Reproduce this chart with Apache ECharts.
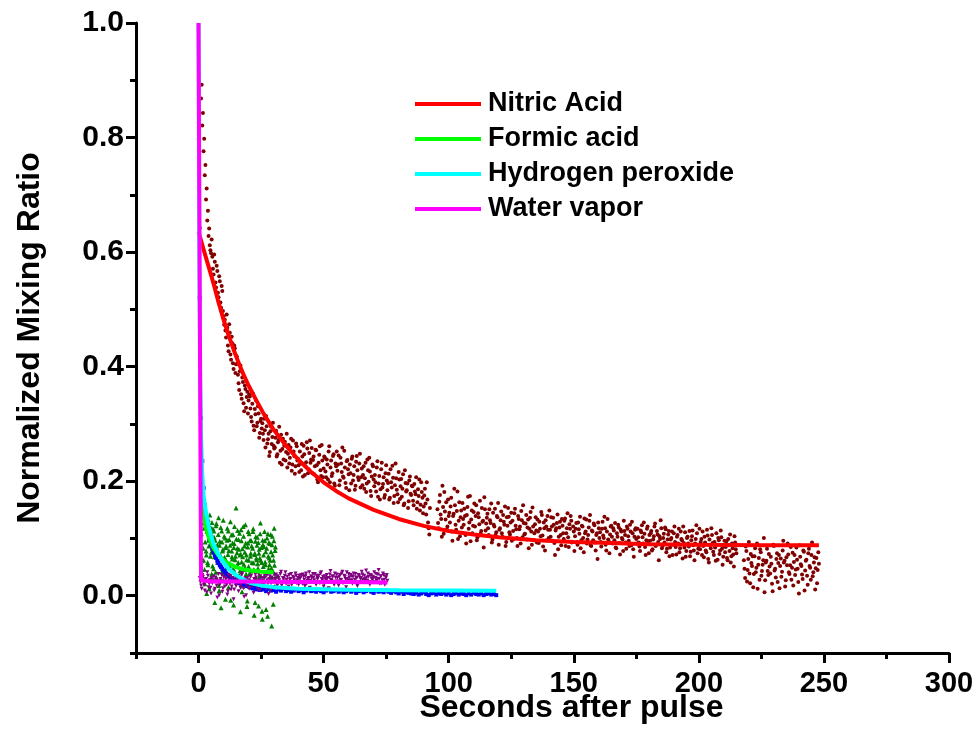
<!DOCTYPE html>
<html>
<head>
<meta charset="utf-8">
<script src="https://cdn.jsdelivr.net/npm/echarts@6/dist/echarts.min.js"></script>
<style>html,body{margin:0;padding:0;background:#fff}#c{width:979px;height:752px}</style>
</head>
<body>
<div id="c"></div>
<script>
// ---------- tick labels ----------
const xMajorTicks = [0, 50, 100, 150, 200, 250, 300];
const xMinorTicks = [-25, 25, 75, 125, 175, 225, 275];
const yMajorTicks = [0, 0.2, 0.4, 0.6, 0.8, 1.0];
const yMinorTicks = [-0.1, 0.1, 0.3, 0.5, 0.7, 0.9];

// ---------- legend / series names ----------
const seriesNames = ['Nitric Acid', 'Formic acid', 'Hydrogen peroxide', 'Water vapor'];

// ---------- measured points (sampling step 0.5 s unless noted) ----------
const sampleStep = 0.5;

// nitric acid, first pass (t = 0.5 ... 92.5)
const nitricAStart = 0.5;
const nitricA = [
  0.642, 0.868, 0.821, 0.776, 0.734, 0.692, 0.655, 0.628, 0.612, 0.598,
  0.592, 0.561, 0.583, 0.538, 0.567, 0.521, 0.549, 0.503, 0.532, 0.488,
  0.482, 0.451, 0.468, 0.427, 0.459, 0.412, 0.441, 0.396, 0.432, 0.404,
  0.405, 0.371, 0.392, 0.352, 0.381, 0.336, 0.367, 0.328, 0.356, 0.341,
  0.348, 0.312, 0.335, 0.297, 0.326, 0.341, 0.302, 0.318, 0.284, 0.309,
  0.301, 0.272, 0.289, 0.314, 0.266, 0.283, 0.251, 0.295, 0.277, 0.262,
  0.259, 0.288, 0.247, 0.272, 0.232, 0.281, 0.256, 0.238, 0.269, 0.251,
  0.224, 0.263, 0.241, 0.274, 0.229, 0.252, 0.213, 0.266, 0.236, 0.228,
  0.252, 0.219, 0.243, 0.262, 0.211, 0.233, 0.257, 0.221, 0.271, 0.238,
  0.214, 0.243, 0.226, 0.254, 0.203, 0.232, 0.261, 0.209, 0.236, 0.222,
  0.241, 0.207, 0.229, 0.252, 0.198, 0.236, 0.214, 0.247, 0.192, 0.226,
  0.218, 0.245, 0.201, 0.231, 0.259, 0.206, 0.224, 0.188, 0.237, 0.212,
  0.229, 0.196, 0.243, 0.211, 0.185, 0.234, 0.219, 0.202, 0.248, 0.207,
  0.193, 0.226, 0.205, 0.181, 0.238, 0.199, 0.217, 0.174, 0.229, 0.203,
  0.211, 0.182, 0.235, 0.196, 0.168, 0.221, 0.189, 0.207, 0.176, 0.228,
  0.184, 0.213, 0.171, 0.198, 0.227, 0.162, 0.193, 0.205, 0.177, 0.216,
  0.169, 0.204, 0.187, 0.158, 0.219, 0.182, 0.196, 0.165, 0.208, 0.176,
  0.191, 0.158, 0.182, 0.207, 0.163, 0.174, 0.149, 0.198, 0.171, 0.156,
  0.187, 0.142, 0.168, 0.118, 0.153
];
// nitric acid, second pass (t = 0.75 ... 92.25)
const nitricA2Start = 0.75;
const nitricA2 = [
  0.615, 0.892, 0.843, 0.798, 0.752, 0.711, 0.672, 0.641, 0.603, 0.622,
  0.571, 0.596, 0.547, 0.576, 0.529, 0.558, 0.512, 0.541, 0.497, 0.473,
  0.463, 0.491, 0.437, 0.474, 0.421, 0.452, 0.406, 0.437, 0.389, 0.418,
  0.386, 0.359, 0.402, 0.344, 0.373, 0.322, 0.361, 0.347, 0.318, 0.352,
  0.327, 0.304, 0.353, 0.289, 0.317, 0.296, 0.331, 0.276, 0.305, 0.292,
  0.283, 0.309, 0.259, 0.296, 0.273, 0.244, 0.287, 0.265, 0.302, 0.257,
  0.276, 0.243, 0.268, 0.295, 0.253, 0.229, 0.274, 0.262, 0.236, 0.283,
  0.248, 0.231, 0.259, 0.218, 0.271, 0.244, 0.226, 0.261, 0.239, 0.216,
  0.231, 0.265, 0.208, 0.247, 0.226, 0.268, 0.214, 0.249, 0.232, 0.258,
  0.237, 0.212, 0.255, 0.228, 0.198, 0.246, 0.219, 0.263, 0.207, 0.243,
  0.217, 0.238, 0.203, 0.261, 0.224, 0.209, 0.244, 0.196, 0.231, 0.252,
  0.229, 0.193, 0.241, 0.216, 0.208, 0.253, 0.197, 0.235, 0.221, 0.184,
  0.214, 0.239, 0.201, 0.226, 0.192, 0.244, 0.207, 0.231, 0.189, 0.222,
  0.211, 0.187, 0.232, 0.196, 0.219, 0.241, 0.183, 0.208, 0.226, 0.191,
  0.198, 0.224, 0.173, 0.209, 0.186, 0.232, 0.195, 0.171, 0.214, 0.201,
  0.197, 0.168, 0.221, 0.189, 0.206, 0.174, 0.231, 0.185, 0.163, 0.203,
  0.191, 0.173, 0.212, 0.161, 0.197, 0.184, 0.153, 0.201, 0.178, 0.192,
  0.166, 0.195, 0.177, 0.152, 0.186, 0.203, 0.159, 0.181, 0.144, 0.175,
  0.161, 0.198, 0.128, 0.107
];

// nitric acid after the short gap (t = 95.5 ... 215)
const nitricBStart = 95.5;
const nitricB = [
  0.151, 0.118, 0.176, 0.134, 0.192, 0.108, 0.147, 0.163, 0.121, 0.139,
  0.128, 0.171, 0.096, 0.143, 0.158, 0.115, 0.182, 0.131, 0.104, 0.149,
  0.162, 0.124, 0.139, 0.091, 0.155, 0.117, 0.174, 0.133, 0.109, 0.146,
  0.121, 0.158, 0.102, 0.137, 0.166, 0.113, 0.129, 0.084, 0.151, 0.126,
  0.143, 0.106, 0.132, 0.161, 0.098, 0.124, 0.152, 0.111, 0.137, 0.089,
  0.118, 0.147, 0.103, 0.129, 0.156, 0.094, 0.122, 0.138, 0.107, 0.145,
  0.131, 0.099, 0.152, 0.116, 0.087, 0.134, 0.121, 0.148, 0.102, 0.127,
  0.108, 0.141, 0.119, 0.083, 0.136, 0.112, 0.154, 0.097, 0.125, 0.114,
  0.133, 0.092, 0.117, 0.146, 0.105, 0.128, 0.079, 0.121, 0.139, 0.101,
  0.115, 0.137, 0.096, 0.124, 0.071, 0.118, 0.142, 0.103, 0.129, 0.088,
  0.122, 0.099, 0.135, 0.109, 0.144, 0.085, 0.117, 0.131, 0.094, 0.112,
  0.104, 0.127, 0.089, 0.116, 0.138, 0.097, 0.121, 0.076, 0.109, 0.133,
  0.098, 0.119, 0.141, 0.087, 0.112, 0.126, 0.093, 0.106, 0.064, 0.118,
  0.111, 0.086, 0.129, 0.101, 0.118, 0.079, 0.134, 0.095, 0.107, 0.122,
  0.091, 0.114, 0.127, 0.083, 0.103, 0.119, 0.072, 0.112, 0.098, 0.131,
  0.106, 0.082, 0.117, 0.096, 0.124, 0.088, 0.109, 0.068, 0.115, 0.099,
  0.117, 0.093, 0.078, 0.111, 0.102, 0.128, 0.085, 0.097, 0.121, 0.074,
  0.096, 0.113, 0.081, 0.104, 0.126, 0.089, 0.107, 0.062, 0.099, 0.118,
  0.087, 0.108, 0.119, 0.076, 0.098, 0.113, 0.084, 0.101, 0.071, 0.109,
  0.094, 0.072, 0.106, 0.117, 0.083, 0.099, 0.065, 0.092, 0.111, 0.078,
  0.103, 0.086, 0.069, 0.097, 0.114, 0.079, 0.091, 0.123, 0.074, 0.088,
  0.081, 0.099, 0.112, 0.067, 0.093, 0.076, 0.105, 0.058, 0.089, 0.118,
  0.092, 0.071, 0.084, 0.109, 0.063, 0.097, 0.079, 0.102, 0.054, 0.086,
  0.076, 0.095, 0.062, 0.088, 0.107, 0.069, 0.083, 0.051, 0.093, 0.074
];
const nitricB2Start = 95.75;
const nitricB2 = [
  0.127, 0.164, 0.142, 0.103, 0.155, 0.181, 0.133, 0.116, 0.168, 0.145,
  0.156, 0.112, 0.139, 0.187, 0.124, 0.148, 0.099, 0.163, 0.137, 0.119,
  0.134, 0.152, 0.106, 0.141, 0.173, 0.128, 0.095, 0.149, 0.122, 0.161,
  0.139, 0.097, 0.144, 0.125, 0.108, 0.153, 0.131, 0.172, 0.114, 0.136,
  0.118, 0.151, 0.127, 0.093, 0.145, 0.121, 0.106, 0.139, 0.162, 0.115,
  0.132, 0.109, 0.141, 0.124, 0.087, 0.137, 0.153, 0.111, 0.128, 0.096,
  0.113, 0.144, 0.122, 0.101, 0.139, 0.116, 0.091, 0.132, 0.158, 0.107,
  0.126, 0.098, 0.133, 0.117, 0.146, 0.089, 0.121, 0.109, 0.137, 0.093,
  0.112, 0.129, 0.104, 0.141, 0.086, 0.118, 0.132, 0.097, 0.115, 0.149,
  0.103, 0.121, 0.136, 0.092, 0.114, 0.127, 0.081, 0.119, 0.106, 0.134,
  0.109, 0.131, 0.087, 0.118, 0.102, 0.125, 0.139, 0.093, 0.121, 0.078,
  0.117, 0.094, 0.128, 0.108, 0.083, 0.122, 0.101, 0.135, 0.112, 0.091,
  0.106, 0.131, 0.088, 0.114, 0.097, 0.123, 0.079, 0.109, 0.128, 0.101,
  0.094, 0.117, 0.105, 0.138, 0.089, 0.112, 0.098, 0.074, 0.121, 0.103,
  0.118, 0.097, 0.084, 0.109, 0.124, 0.092, 0.115, 0.101, 0.078, 0.113,
  0.093, 0.121, 0.104, 0.087, 0.112, 0.129, 0.081, 0.103, 0.118, 0.091,
  0.102, 0.086, 0.114, 0.123, 0.091, 0.108, 0.071, 0.117, 0.095, 0.106,
  0.109, 0.079, 0.098, 0.121, 0.087, 0.113, 0.094, 0.104, 0.132, 0.083,
  0.101, 0.093, 0.116, 0.082, 0.107, 0.069, 0.098, 0.112, 0.089, 0.121,
  0.085, 0.103, 0.091, 0.076, 0.112, 0.097, 0.121, 0.084, 0.068, 0.101,
  0.091, 0.113, 0.077, 0.104, 0.088, 0.062, 0.099, 0.109, 0.082, 0.117,
  0.094, 0.071, 0.087, 0.103, 0.079, 0.115, 0.064, 0.098, 0.083, 0.106,
  0.077, 0.094, 0.061, 0.089, 0.101, 0.073, 0.114, 0.082, 0.068, 0.096,
  0.085, 0.066, 0.099, 0.078, 0.058, 0.091, 0.072, 0.104, 0.081
];

// nitric acid, last stretch (t = 218 ... 248)
const nitricCStart = 218;
const nitricC = [
  0.062, 0.031, 0.078, 0.045, 0.094, 0.022, 0.057, 0.069, 0.038, 0.083,
  0.049, 0.012, 0.066, 0.081, 0.035, 0.054, 0.101, 0.027, 0.061, 0.043,
  0.073, 0.039, 0.056, 0.008, 0.087, 0.047, 0.064, 0.024, 0.071, 0.052,
  0.033, 0.079, 0.058, 0.016, 0.067, 0.091, 0.041, 0.053, 0.028, 0.075,
  0.059, 0.036, 0.084, 0.047, 0.004, 0.068, 0.052, 0.029, 0.077, 0.044,
  0.063, 0.019, 0.082, 0.049, 0.071, 0.034, 0.058, 0.011, 0.066, 0.045,
  0.056
];
const nitricC2Start = 218.25;
const nitricC2 = [
  0.047, 0.086, 0.025, 0.064, 0.039, 0.073, 0.052, 0.015, 0.069, 0.041,
  0.091, 0.054, 0.028, 0.076, 0.043, 0.062, 0.006, 0.058, 0.082, 0.036,
  0.051, 0.068, 0.021, 0.089, 0.044, 0.032, 0.074, 0.057, 0.013, 0.065,
  0.042, 0.096, 0.061, 0.027, 0.053, 0.072, 0.038, 0.085, 0.049, 0.018,
  0.071, 0.046, 0.063, 0.024, 0.088, 0.055, 0.037, 0.079, 0.009, 0.061,
  0.035, 0.074, 0.052, 0.028, 0.093, 0.041, 0.067, 0.048, 0.022, 0.076
];

// formic acid, step 0.25 s
const formicStep = 0.25;
const formicStart = 1.0;
const formic = [
  0.092, 0.148, 0.035, 0.171, 0.062, 0.118, 0.021, 0.135, 0.078, 0.004,
  0.126, 0.054, 0.097, 0.012, 0.141, 0.069, 0.109, 0.038, 0.083, 0.117,
  0.047, 0.102, -0.012, 0.074, 0.122, 0.031, 0.089, 0.058, 0.136, 0.009,
  0.095, 0.066, -0.021, 0.113, 0.043, 0.081, 0.027, 0.104, 0.061, -0.006,
  0.087, 0.049, 0.118, 0.072, 0.015, 0.098, 0.056, 0.129, 0.034, 0.078,
  0.064, 0.107, -0.016, 0.091, 0.041, 0.069, 0.153, 0.024, 0.083, 0.052,
  0.098, 0.036, 0.071, -0.028, 0.115, 0.059, 0.082, 0.017, 0.104, 0.046,
  0.076, 0.124, 0.038, 0.063, -0.009, 0.092, 0.051, 0.108, 0.028, 0.069,
  0.043, 0.087, 0.019, 0.112, 0.057, -0.034, 0.074, 0.095, 0.031, 0.063,
  0.102, 0.048, -0.018, 0.081, 0.066, 0.127, 0.022, 0.058, -0.041, 0.089,
  0.071, 0.035, 0.096, 0.054, -0.024, 0.083, 0.012, 0.108, 0.047, 0.066,
  0.091, 0.029, 0.077, -0.053, 0.104, 0.043, 0.062, 0.118, 0.016, 0.085
];
const formic2Start = 1.125;
const formic2 = [
  0.108, 0.061, 0.156, 0.083, 0.127, 0.046, 0.094, 0.139, 0.071, 0.112,
  0.058, 0.133, 0.087, 0.102, 0.029, 0.119, 0.076, 0.128, 0.052, 0.091,
  0.113, 0.068, 0.097, 0.041, 0.126, 0.083, 0.059, 0.107, 0.018, 0.088,
  0.072, 0.119, 0.053, 0.094, 0.078, 0.132, 0.039, 0.067, 0.101, 0.084,
  0.061, 0.097, 0.036, 0.113, 0.079, 0.052, 0.088, -0.008, 0.106, 0.068,
  0.092, 0.047, 0.084, 0.121, 0.063, 0.031, 0.099, 0.075, 0.114, 0.058,
  0.081, 0.109, 0.044, 0.073, 0.096, 0.007, 0.068, 0.121, 0.055, 0.087,
  0.049, 0.092, 0.071, -0.019, 0.085, 0.112, 0.062, 0.039, 0.097, 0.074,
  0.096, 0.058, 0.083, 0.117, 0.046, 0.072, -0.012, 0.103, 0.066, 0.088,
  0.056, 0.093, 0.074, 0.035, 0.108, 0.062, 0.084, -0.027, 0.097, 0.051,
  0.086, 0.112, 0.059, 0.077, 0.041, 0.101, -0.036, 0.069, 0.093, 0.054,
  0.062, 0.107, 0.048, 0.089, 0.071, -0.015, 0.096, 0.053, 0.079, 0.034
];

// hydrogen peroxide: early part step 0.5 s, late part step 1 s
const peroxideEarlyStart = 0.5;
const peroxideEarly = [
  0.520, 0.310, 0.235, 0.188, 0.158, 0.137, 0.121, 0.108, 0.097, 0.089,
  0.083, 0.076, 0.071, 0.066, 0.061, 0.057, 0.053, 0.050, 0.047, 0.044,
  0.042, 0.039, 0.037, 0.035, 0.033, 0.031, 0.029, 0.028, 0.027, 0.025,
  0.024, 0.023, 0.022, 0.021, 0.020, 0.019, 0.018, 0.017, 0.017, 0.016,
  0.015, 0.016, 0.013, 0.014, 0.012, 0.013, 0.011, 0.012, 0.010, 0.011
];
const peroxideLateStart = 26;
const peroxideLateStep = 1;
const peroxideLate = [
  0.011, 0.008, 0.012, 0.009, 0.010, 0.007, 0.011, 0.009, 0.012, 0.008,
  0.010, 0.007, 0.009, 0.011, 0.008, 0.010, 0.006, 0.009, 0.011, 0.008,
  0.009, 0.007, 0.010, 0.008, 0.006, 0.009, 0.011, 0.007, 0.008, 0.010,
  0.007, 0.009, 0.006, 0.008, 0.010, 0.007, 0.009, 0.005, 0.008, 0.009,
  0.006, 0.008, 0.010, 0.007, 0.005, 0.009, 0.007, 0.008, 0.006, 0.009,
  0.007, 0.005, 0.008, 0.006, 0.004, 0.007, 0.003, 0.006, 0.005, 0.004,
  0.003, 0.005, 0.002, 0.004, 0.006, 0.003, 0.001, 0.004, 0.005, 0.002,
  0.004, 0.003, 0.005, 0.002, 0.004, 0.001, 0.003, 0.005, 0.002, 0.004,
  0.003, 0.001, 0.004, 0.002, 0.005, 0.003, 0.002, 0.004, 0.001, 0.003,
  0.004, 0.002, 0.003, 0.001
];

// water vapor, step 0.5 s, two interleaved passes
const waterStart = 0.5;
const water = [
  0.031, 0.018, 0.036, 0.024, 0.009, 0.029, 0.041, 0.015, 0.027, 0.004,
  0.022, 0.034, 0.012, 0.028, -0.003, 0.038, 0.019, 0.026, 0.007, 0.033,
  0.016, 0.029, 0.002, 0.036, 0.021, 0.011, 0.031, -0.006, 0.025, 0.017,
  0.034, 0.008, 0.027, 0.019, 0.039, 0.013, 0.024, 0.001, 0.031, 0.022,
  0.014, 0.035, 0.021, 0.005, 0.028, 0.032, 0.017, 0.038, 0.009, 0.026,
  0.031, 0.019, 0.036, 0.012, 0.027, 0.003, 0.034, 0.022, 0.029, 0.015,
  0.026, 0.037, 0.018, 0.031, 0.024, 0.042, 0.013, 0.029, 0.035, 0.021,
  0.033, 0.016, 0.028, 0.038, 0.023, 0.031, 0.011, 0.035, 0.027, 0.019,
  0.029, 0.036, 0.021, 0.033, 0.017, 0.039, 0.026, 0.031, 0.014, 0.034,
  0.024, 0.032, 0.038, 0.019, 0.029, 0.035, 0.022, 0.041, 0.027, 0.016,
  0.034, 0.026, 0.031, 0.013, 0.037, 0.028, 0.033, 0.021, 0.039, 0.025,
  0.031, 0.018, 0.036, 0.027, 0.042, 0.024, 0.033, 0.015, 0.029, 0.038,
  0.026, 0.034, 0.021, 0.039, 0.028, 0.032, 0.017, 0.036, 0.024, 0.031,
  0.037, 0.023, 0.029, 0.044, 0.026, 0.033, 0.019, 0.035, 0.028, 0.031,
  0.024, 0.038, 0.029, 0.045, 0.021, 0.034, 0.027, 0.036, 0.019, 0.032, 0.026
];
const water2Start = 0.75;
const water2 = [
  0.024, 0.012, 0.033, 0.019, 0.028, 0.006, 0.035, 0.021, 0.014, 0.031,
  0.027, 0.009, 0.032, 0.018, 0.025, 0.001, 0.029, 0.036, 0.013, 0.023,
  0.031, 0.019, 0.008, 0.027, 0.034, 0.016, 0.024, 0.011, 0.033, 0.028,
  0.021, 0.029, 0.014, 0.036, 0.025, -0.002, 0.031, 0.018, 0.027, 0.012,
  0.033, 0.024, 0.017, 0.029, 0.037, 0.021, 0.011, 0.028, 0.034, 0.019,
  0.026, 0.031, 0.015, 0.035, 0.022, 0.029, 0.009, 0.032, 0.024, 0.036,
  0.029, 0.021, 0.034, 0.027, 0.038, 0.018, 0.031, 0.025, 0.041, 0.028,
  0.024, 0.036, 0.029, 0.019, 0.033, 0.027, 0.039, 0.022, 0.031, 0.035,
  0.032, 0.023, 0.037, 0.028, 0.034, 0.021, 0.029, 0.041, 0.026, 0.031,
  0.038, 0.027, 0.022, 0.035, 0.031, 0.024, 0.039, 0.029, 0.033, 0.021,
  0.029, 0.036, 0.024, 0.031, 0.043, 0.026, 0.034, 0.019, 0.032, 0.037,
  0.025, 0.033, 0.028, 0.039, 0.022, 0.035, 0.029, 0.041, 0.026, 0.032,
  0.036, 0.027, 0.033, 0.024, 0.038, 0.031, 0.022, 0.034, 0.029, 0.042,
  0.028, 0.035, 0.026, 0.032, 0.039, 0.024, 0.036, 0.029, 0.033, 0.041,
  0.031, 0.026, 0.037, 0.029, 0.034, 0.022, 0.039, 0.028, 0.033, 0.036
];

// ---------- fitted curves [seconds, ratio] ----------
const nitricFit = [
  [0, 0.635], [1, 0.62], [2, 0.605], [3, 0.59], [4, 0.575], [5, 0.56], [6, 0.545],
  [8, 0.512], [10, 0.482], [12, 0.455], [14, 0.43], [16, 0.407], [18, 0.386],
  [20, 0.367], [23, 0.342], [26, 0.318], [30, 0.29], [35, 0.262], [40, 0.237],
  [45, 0.216], [50, 0.198], [55, 0.183], [60, 0.17], [70, 0.15], [80, 0.134],
  [90, 0.122], [100, 0.113], [110, 0.107], [120, 0.102], [135, 0.097],
  [150, 0.094], [165, 0.092], [180, 0.09], [200, 0.089], [225, 0.088], [248, 0.088]
];
const formicFit = [
  [1, 0.2], [1.5, 0.165], [2, 0.142], [3, 0.118], [4, 0.103], [5, 0.092], [6, 0.083],
  [8, 0.07], [10, 0.062], [12, 0.056], [15, 0.05], [18, 0.046], [21, 0.044],
  [25, 0.042], [30, 0.041]
];
const peroxideFit = [
  [0, 1.0], [0.3, 0.6], [0.6, 0.4], [1, 0.28], [1.5, 0.21], [2, 0.175], [3, 0.145],
  [4, 0.122], [5, 0.105], [6, 0.09], [8, 0.072], [10, 0.058], [12, 0.047],
  [15, 0.036], [18, 0.028], [21, 0.022], [25, 0.018], [30, 0.015], [40, 0.012],
  [60, 0.0105], [80, 0.0095], [100, 0.009], [119, 0.0085]
];
const waterFit = [
  [0, 1.0], [1.0, 0.027], [5, 0.025], [20, 0.025], [40, 0.024], [60, 0.024], [75.5, 0.023]
];

// ---------- build ----------
function toPoints(start, step, ys) {
  return ys.map((y, i) => [start + i * step, y]);
}
const nitricPts = [].concat(
  toPoints(nitricAStart, sampleStep, nitricA),
  toPoints(nitricA2Start, sampleStep, nitricA2),
  toPoints(nitricBStart, sampleStep, nitricB),
  toPoints(nitricB2Start, sampleStep, nitricB2),
  toPoints(nitricCStart, sampleStep, nitricC),
  toPoints(nitricC2Start, sampleStep, nitricC2)
);
const formicPts = [].concat(
  toPoints(formicStart, formicStep, formic),
  toPoints(formic2Start, formicStep, formic2)
);
const peroxidePts = [].concat(
  toPoints(peroxideEarlyStart, sampleStep, peroxideEarly),
  toPoints(peroxideLateStart, peroxideLateStep, peroxideLate)
);
const waterPts = [].concat(
  toPoints(waterStart, sampleStep, water),
  toPoints(water2Start, sampleStep, water2)
);

const FONT = 'Liberation Sans, Arial, sans-serif';
const black = '#000';

const chart = echarts.init(document.getElementById('c'), null, { renderer: 'canvas' });

function fitLine(name, data, color, z) {
  return {
    name: name, type: 'line', data: data, showSymbol: false, symbol: 'none',
    smooth: false, lineStyle: { color: color, width: 4 }, itemStyle: { color: color },
    z: z, silent: true
  };
}
function dots(name, data, color, symbol, size, rotate, z) {
  return {
    name: name, type: 'scatter', data: data, symbol: symbol, symbolSize: size,
    symbolRotate: rotate, itemStyle: { color: color, opacity: 1 }, z: z, silent: true
  };
}

const option = {
  animation: false,
  backgroundColor: '#fff',
  grid: { left: 136, top: 23, right: 30, bottom: 99, containLabel: false },
  legend: {
    data: seriesNames,
    orient: 'vertical',
    left: 410, top: 85,
    icon: 'rect', itemWidth: 66, itemHeight: 4, itemGap: 7,
    textStyle: { fontFamily: FONT, fontWeight: 'bold', fontSize: 27, color: black, lineHeight: 28, padding: [0, 0, 0, 2] }
  },
  xAxis: [
    {
      type: 'value', min: -25, max: 300,
      name: 'Seconds after pulse', nameLocation: 'middle', nameGap: 39, nameMoveOverlap: false,
      nameTextStyle: { fontFamily: FONT, fontWeight: 'bold', fontSize: 32, color: black, padding: [0, 0, 0, 58] },
      axisLine: { show: true, onZero: false, lineStyle: { color: black, width: 3 } },
      axisTick: { show: true, customValues: xMajorTicks, length: 10, lineStyle: { color: black, width: 3 } },
      axisLabel: { customValues: xMajorTicks, fontFamily: FONT, fontWeight: 'bold', fontSize: 29, color: black, margin: 16 },
      splitLine: { show: false }
    },
    {
      type: 'value', min: -25, max: 300, position: 'bottom',
      axisLine: { show: false, onZero: false },
      axisTick: { show: true, customValues: xMinorTicks, length: 6, lineStyle: { color: black, width: 3 } },
      axisLabel: { show: false }, splitLine: { show: false }
    }
  ],
  yAxis: [
    {
      type: 'value', min: -0.1, max: 1.0,
      name: 'Normalized Mixing Ratio', nameLocation: 'middle', nameGap: 90, nameMoveOverlap: false,
      nameTextStyle: { fontFamily: FONT, fontWeight: 'bold', fontSize: 32, color: black },
      axisLine: { show: true, onZero: false, lineStyle: { color: black, width: 3 } },
      axisTick: { show: true, customValues: yMajorTicks, length: 10, lineStyle: { color: black, width: 3 } },
      axisLabel: {
        customValues: yMajorTicks, fontFamily: FONT, fontWeight: 'bold', fontSize: 30, color: black, margin: 12,
        formatter: v => Number(v).toFixed(1)
      },
      splitLine: { show: false }
    },
    {
      type: 'value', min: -0.1, max: 1.0, position: 'left',
      axisLine: { show: false, onZero: false },
      axisTick: { show: true, customValues: yMinorTicks, length: 6, lineStyle: { color: black, width: 3 } },
      axisLabel: { show: false }, splitLine: { show: false }
    }
  ],
  series: [
    dots('Nitric Acid data', nitricPts, '#800000', 'circle', 4, 0, 2),
    fitLine(seriesNames[0], nitricFit, '#ff0000', 3),
    dots('Formic acid data', formicPts, '#008000', 'triangle', 5, 0, 4),
    dots('Hydrogen peroxide data', peroxidePts, '#0000ff', 'rect', 4, 0, 4),
    dots('Water vapor data', waterPts, '#800080', 'triangle', 4, 180, 5),
    fitLine(seriesNames[1], formicFit, '#00ff00', 6),
    fitLine(seriesNames[2], peroxideFit, '#00ffff', 7),
    fitLine(seriesNames[3], waterFit, '#ff00ff', 8)
  ]
};
chart.setOption(option);
</script>
</body>
</html>
